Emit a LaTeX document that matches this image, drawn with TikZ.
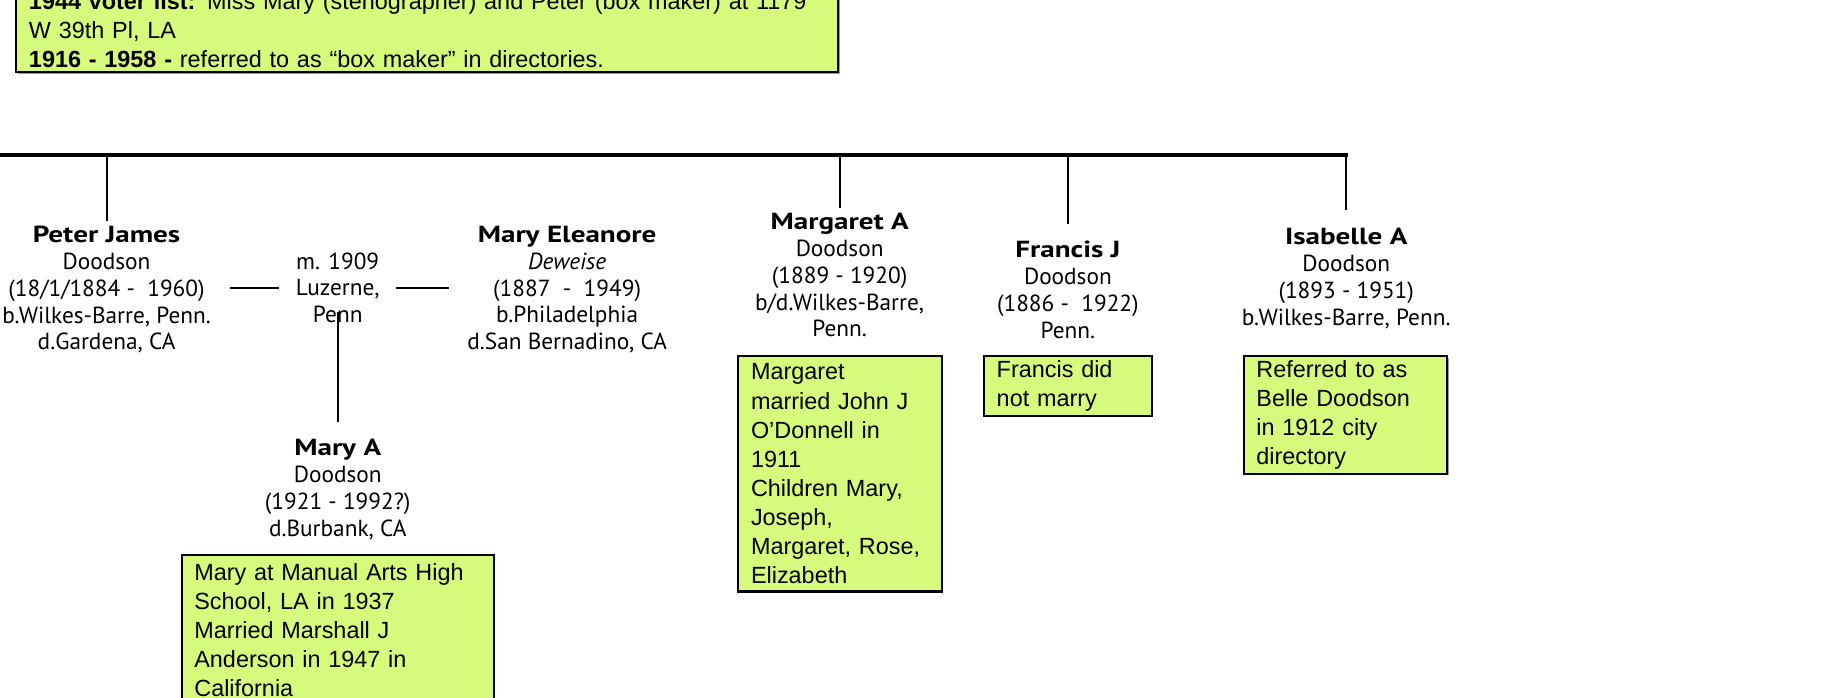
\documentclass[tikz,border=0pt]{standalone}
\usepackage{fontspec}
\setmainfont{Liberation Sans}
\newfontfamily\gillfont{PT Sans}
\newfontfamily\namefont{PT Sans Bold}[FakeStretch=1.25]
\usetikzlibrary{
  chains,
  positioning,
  scopes,
  shadows
}
\definecolor{notegreen}{RGB}{214,250,124}
\newcommand{\pname}[1]{{\namefont #1}}

\begin{document}
\begin{tikzpicture}[x=1pt,y=-1pt,
      person/.style={
         align=center,
         inner xsep=16pt,
         inner ysep=4pt,
         anchor=north,
         font=\gillfont\fontsize{20}{23}\selectfont
      },
      note/.style={
         rectangle,
         draw=black,
         line width=1.8pt,
         fill=notegreen,
         drop shadow={shadow xshift=1.2pt,shadow yshift=-1.2pt,fill=black!40,opacity=1},
         align=left,
         anchor=north west,
         inner xsep=11pt,
         inner ysep=3pt,
         font=\fontsize{20.1}{25}\selectfont
      },
      point/.style={coordinate},
      bar/.style={line width=2.8pt,line cap=rect},
      tie/.style={line width=1.7pt},
      every join/.style={tie}
    ]
    \useasboundingbox (0,0) rectangle (1568,599);
    \clip (0,0) rectangle (1568,599);

    \node (topnote) [note,anchor=south west,text width=684pt,inner ysep=4pt] at (13,63)
       {\textbf{1944 voter list:} Miss Mary (stenographer) and Peter (box maker) at 1179\\
        W 39th Pl, LA\\
        \textbf{1916 - 1958 -} referred to as “box maker” in directories.};

    \node (peter) [person] at (91.5,190)
       {\pname{Peter James}\\Doodson\\(18/1/1884 -\ \ 1960)\\b.Wilkes-Barre, Penn.\\d.Gardena, CA};
    \node (wedding) [person,anchor=center,inner xsep=14pt] at (290,247)
       {m. 1909\\Luzerne,\\Penn};
    \node (eleanore) [person] at (487,190)
       {\pname{Mary Eleanore}\\\textit{Deweise}\\(1887\ \ -\ \ 1949)\\b.Philadelphia\\d.San Bernadino, CA};
    \node (maryA) [person] at (290,373)
       {\pname{Mary A}\\Doodson\\(1921 - 1992?)\\d.Burbank, CA};
    \node (margaret) [person] at (721,179)
       {\pname{Margaret A}\\Doodson\\(1889 - 1920)\\b/d.Wilkes-Barre,\\Penn.};
    \node (francis) [person] at (917,203)
       {\pname{Francis J}\\Doodson\\(1886 -\ \ 1922)\\Penn.};
    \node (isabelle) [person] at (1156,192)
       {\pname{Isabelle A}\\Doodson\\(1893 - 1951)\\b.Wilkes-Barre, Penn.};

    \node (maryNote) [note,text width=246pt,minimum height=128pt] at (155,476)
       {Mary at Manual Arts High\\School, LA in 1937\\Married Marshall J\\Anderson in 1947 in\\California};
    \node (margaretNote) [note,text width=153pt,minimum height=202pt] at (633,305)
       {Margaret\\married John J\\O’Donnell in\\1911\\Children Mary,\\Joseph,\\Margaret, Rose,\\Elizabeth};
    \node (francisNote) [note,text width=122pt,minimum height=51pt] at (844,305)
       {Francis did\\not marry};
    \node (isabelleNote) [note,text width=153pt,minimum height=101pt] at (1067,305)
       {Referred to as\\Belle Doodson\\in 1912 city\\directory};

    \coordinate (barL) at (-5,133);
    \coordinate (barP) at (91.5,133);
    \coordinate (barM) at (721,133);
    \coordinate (barF) at (917,133);
    \coordinate (barI) at (1156,133);
    \coordinate (wed) at (290,268);

  { [start chain]
       \chainin (barL);
       \chainin (barI)    [join=by bar];
  }
  { [start chain]
       \chainin (barP);
       \chainin (peter)    [join];
  }
  { [start chain]
       \chainin (barM);
       \chainin (margaret)    [join];
  }
  { [start chain]
       \chainin (barF);
       \chainin (francis)    [join=by {shorten >=11pt}];
  }
  { [start chain]
       \chainin (barI);
       \chainin (isabelle)    [join=by {shorten >=12pt}];
  }
  { [start chain]
       \chainin (wed);
       \chainin (maryA)    [join=by {shorten >=11pt}];
  }
    \draw[tie] (peter.east |- wedding.west) -- (wedding.west);
    \draw[tie] (wedding.east) -- (eleanore.west |- wedding.east);
\end{tikzpicture}
\end{document}
